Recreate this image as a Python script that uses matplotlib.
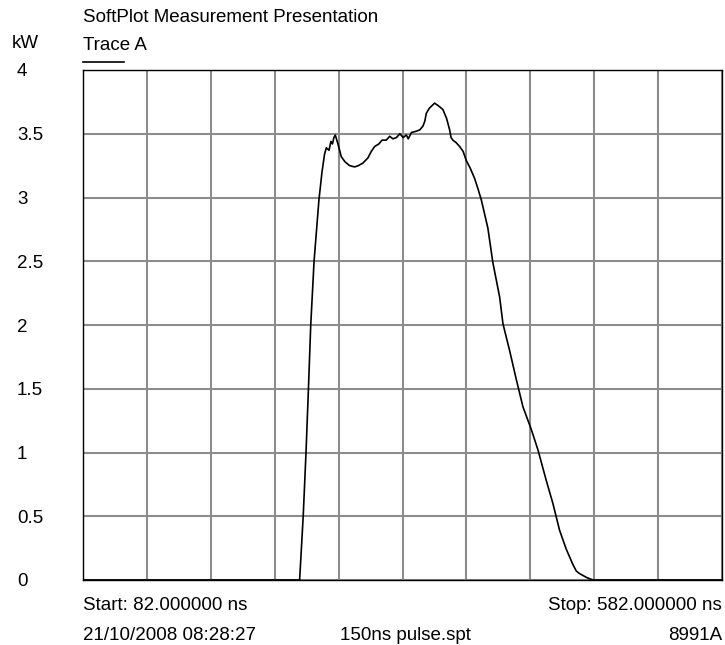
import numpy as np
import matplotlib
matplotlib.use("Agg")
import matplotlib.pyplot as plt
from matplotlib.lines import Line2D

plt.rcParams['font.family'] = ['Liberation Sans', 'DejaVu Sans']

# Trace A (time in ns, power in kW)
time_ns = [82.0, 251.5, 254.3, 256.5, 258.4, 260.2, 262.8, 266.6, 267.7, 269.0,
           270.3, 271.0, 272.4, 274.5, 276.0, 277.2, 278.3, 279.4, 281.5, 284.1,
           287.0, 290.6, 294.5, 297.5, 301.0, 304.9, 307.5, 310.2, 313.5, 316.0,
           319.3, 322.0, 324.5, 327.2, 330.0, 332.5, 335.0, 336.5, 339.0, 342.8,
           345.5, 348.0, 349.5, 350.6, 353.0, 357.1, 360.0, 363.6, 366.5, 368.9,
           370.0, 371.4, 374.0, 376.7, 379.5, 381.9, 385.0, 388.4, 391.0, 393.7,
           398.8, 402.7, 408.0, 410.6, 415.8, 421.1, 426.2, 432.8, 438.0, 444.5,
           449.7, 454.9, 460.2, 465.4, 468.0, 470.6, 476.0, 481.0, 582.0]
power_kw = [0.00, 0.00, 0.50, 1.00, 1.50, 2.00, 2.50, 2.98, 3.08, 3.20,
            3.29, 3.34, 3.39, 3.37, 3.44, 3.42, 3.47, 3.49, 3.42, 3.32,
            3.28, 3.25, 3.24, 3.25, 3.27, 3.31, 3.36, 3.40, 3.42, 3.45,
            3.45, 3.48, 3.46, 3.47, 3.50, 3.47, 3.49, 3.46, 3.51, 3.52,
            3.53, 3.56, 3.60, 3.66, 3.70, 3.74, 3.72, 3.69, 3.62, 3.53,
            3.47, 3.45, 3.43, 3.40, 3.36, 3.29, 3.23, 3.15, 3.07, 2.98,
            2.76, 2.49, 2.22, 2.01, 1.80, 1.57, 1.36, 1.18, 1.02, 0.78,
            0.60, 0.39, 0.24, 0.12, 0.07, 0.05, 0.02, 0.00, 0.00]

x_ticks = np.arange(82, 583, 50)
y_ticks = [0, 0.5, 1, 1.5, 2, 2.5, 3, 3.5, 4]
y_labels = ['0', '0.5', '1', '1.5', '2', '2.5', '3', '3.5', '4']

W, H = 725, 645
fig = plt.figure(figsize=(W / 100, H / 100), dpi=100)
ax = fig.add_axes([83 / W, 1 - 580 / H, (722 - 83) / W, (580 - 70) / H])

ax.plot(time_ns, power_kw, color='black', lw=1.2)
ax.set_xlim(82, 582)
ax.set_ylim(0, 4)
ax.set_xticks(x_ticks)
ax.set_xticklabels([])
ax.set_yticks(y_ticks)
ax.set_yticklabels(y_labels)
ax.grid(True, color='#8c8c8c', lw=1.5)
ax.set_axisbelow(True)
for s in ax.spines.values():
    s.set_color('black')
    s.set_linewidth(1.0)
ax.tick_params(length=0, labelsize=13.5, pad=47.5)
for lab in ax.get_yticklabels():
    lab.set_horizontalalignment('left')

fs = 13.5
fig.text(83 / W, 1 - 17 / H, 'SoftPlot Measurement Presentation', fontsize=fs, va='center')
fig.text(12 / W, 1 - 44 / H, 'kW', fontsize=fs, va='center')
fig.text(83 / W, 1 - 46 / H, 'Trace A', fontsize=fs, va='center')
fig.add_artist(Line2D([83 / W, 124 / W], [1 - 62 / H, 1 - 62 / H], color='black', lw=1.2))

fig.text(83 / W, 1 - 606 / H, 'Start: 82.000000 ns', fontsize=fs, va='center')
fig.text(722 / W, 1 - 606 / H, 'Stop: 582.000000 ns', fontsize=fs, va='center', ha='right')
fig.text(83 / W, 1 - 636 / H, '21/10/2008 08:28:27', fontsize=fs, va='center')
fig.text(405 / W, 1 - 636 / H, '150ns pulse.spt', fontsize=fs, va='center', ha='center')
fig.text(722 / W, 1 - 636 / H, '8991A', fontsize=fs, va='center', ha='right')

fig.savefig('out.png', dpi=100)
